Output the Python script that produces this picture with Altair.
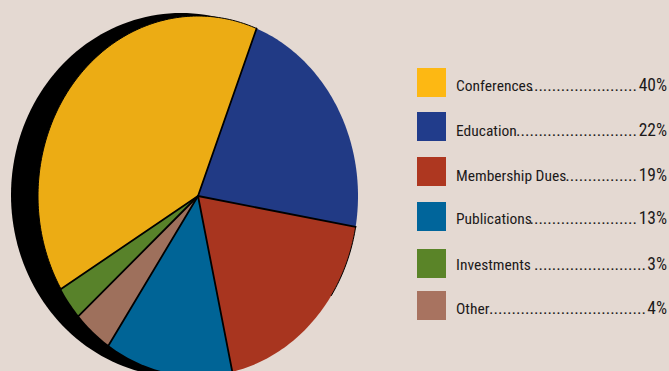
import math
import altair as alt
import pandas as pd

# Revenue sources, in legend order
categories = ["Conferences", "Education", "Membership Dues", "Publications", "Investments", "Other"]
percents = [40, 22, 19, 13, 3, 4]
percent_labels = ["40%", "22%", "19%", "13%", "3%", "4%"]
leader_dots = [24, 27, 16, 24, 25, 35]

# Slices run clockwise in this order
slice_order = ["Conferences", "Education", "Membership Dues", "Publications", "Other", "Investments"]

pie_colors = ["#ecac14", "#213a85", "#a8351f", "#006496", "#58822a", "#9e705c"]
legend_colors = ["#fdb813", "#213c8b", "#ae3720", "#00659b", "#5a8428", "#a87360"]
swatch_centers = [82.5, 126.5, 171.5, 216.5, 263.5, 305.5]
text_baselines = [91, 136, 181, 224, 270, 314]

W, H = 669, 371
BACKGROUND = "#e4d9d2"
INK = "#1c1a1a"
FONT = "Roboto Condensed"
START_ANGLE = 238.9  # clockwise from twelve o'clock, where the first slice begins

# Unit-circle scales stretched so the pie reads as a tall ellipse
x_scale = alt.Scale(domain=[-198 / 160, (W - 198) / 160], range=[0, W], nice=False, zero=False)
y_scale = alt.Scale(domain=[-(H - 196) / 180, 196 / 180], range=[H, 0], nice=False, zero=False)


def path(points, fill=None, stroke=None, stroke_width=0.0):
    frame = pd.DataFrame(points, columns=["u", "v"]).reset_index(names="step")
    style = {"clip": True, "strokeWidth": stroke_width, "strokeCap": "round"}
    style["stroke"] = stroke if stroke else "transparent"
    if fill:
        style["fill"] = fill
    return alt.Chart(frame).mark_line(**style).encode(
        x=alt.X("u:Q", scale=x_scale, axis=None),
        y=alt.Y("v:Q", scale=y_scale, axis=None),
        order="step:Q",
    )


def rim(start, sweep):
    n = max(8, int(sweep))
    angles = [math.radians(start + sweep * i / n) for i in range(n + 1)]
    return [(math.sin(a), math.cos(a)) for a in angles]


# Black ellipse peeking out behind the pie on its left side
shadow_points = [
    ((181 - 198 + 170 * math.sin(math.radians(a))) / 160, (196 - 195 + 182 * math.cos(math.radians(a))) / 180)
    for a in range(0, 361, 2)
]
layers = [path(shadow_points, fill="#000000")]

total = sum(percents)
angle = START_ANGLE
boundaries = []
spans = {}
for name in slice_order:
    i = categories.index(name)
    sweep = 360 * percents[i] / total
    layers.append(path([(0.0, 0.0)] + rim(angle, sweep) + [(0.0, 0.0)], fill=pie_colors[i]))
    boundaries.append(angle)
    spans[name] = (angle, sweep)
    angle += sweep

# Dividers between slices, plus the fine outline on the yellow slice and the top of the red one
for b in boundaries:
    a = math.radians(b)
    layers.append(path([(0.0, 0.0), (math.sin(a), math.cos(a))], stroke="#000000", stroke_width=1.8))
layers.append(path(rim(*spans["Conferences"]), stroke="#000000", stroke_width=1.0))
red_start, red_sweep = spans["Membership Dues"]
layers.append(path(rim(red_start, red_sweep * 0.35), stroke="#000000", stroke_width=1.0))

legend = pd.DataFrame({
    "row": list(range(len(categories))),
    "category": categories,
    "percent": percent_labels,
    "dots": ["." * n for n in leader_dots],
})
swatch_y = alt.Y("row:Q", scale=alt.Scale(domain=list(range(6)), range=swatch_centers), axis=None)
text_y = alt.Y("row:Q", scale=alt.Scale(domain=list(range(6)), range=text_baselines), axis=None)
base = alt.Chart(legend)
text_style = dict(baseline="alphabetic", font=FONT, color=INK, fontSize=15.5)

swatches = base.mark_square(size=841, opacity=1, filled=True).encode(
    x=alt.value(431.5),
    y=swatch_y,
    fill=alt.Fill("category:N", scale=alt.Scale(domain=categories, range=legend_colors), legend=None),
)
names = base.mark_text(align="left", **text_style).encode(x=alt.value(456), y=text_y, text="category:N")
values = base.mark_text(align="right", **dict(text_style, fontSize=17.5)).encode(
    x=alt.value(667), y=text_y, text="percent:N"
)
dot_style = dict(text_style, fontSize=17)
dots_wide = base.transform_filter("length(datum.percent) == 3").mark_text(align="right", **dot_style).encode(
    x=alt.value(637), y=text_y, text="dots:N"
)
dots_narrow = base.transform_filter("length(datum.percent) == 2").mark_text(align="right", **dot_style).encode(
    x=alt.value(646), y=text_y, text="dots:N"
)

pie = alt.layer(*layers)
key = alt.layer(swatches).resolve_scale(color="independent")
labels = alt.layer(names, dots_wide, dots_narrow, values)

chart = (
    alt.layer(pie, key, labels)
    .resolve_scale(x="independent", y="independent")
    .properties(width=W, height=H, background=BACKGROUND, padding=0, autosize=alt.AutoSizeParams(type="none"))
    .configure_view(stroke=None)
)
chart.save("out.html", embed_options={"renderer": "svg", "actions": False})
